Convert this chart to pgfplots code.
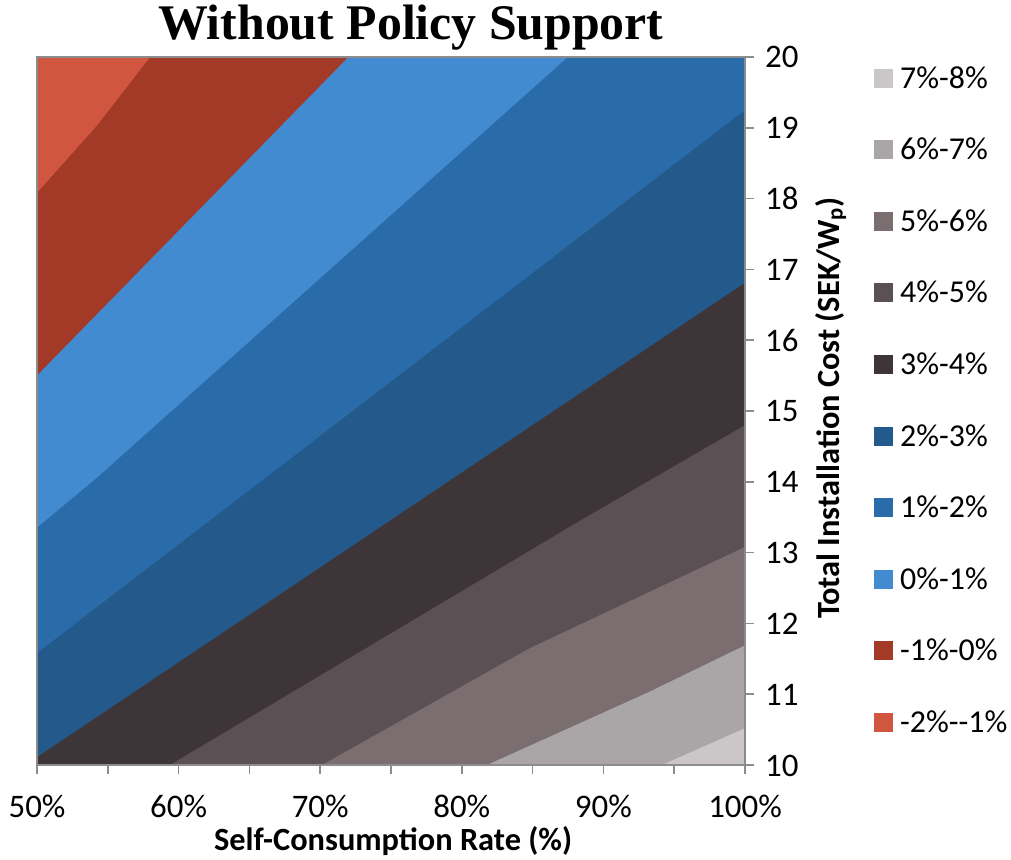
\documentclass[border=0pt]{standalone}
\usepackage{fontspec}
\setmainfont{Carlito}
\newfontfamily\serifbold{Liberation Serif}
\usepackage{pgfplots}
\pgfplotsset{compat=1.18}

% IRR band colours
\definecolor{irrM2}{HTML}{D0563F}
\definecolor{irrM1}{HTML}{A23A27}
\definecolor{irrP0}{HTML}{438BD1}
\definecolor{irrP1}{HTML}{2A6CAA}
\definecolor{irrP2}{HTML}{235A8B}
\definecolor{irrP3}{HTML}{3D3537}
\definecolor{irrP4}{HTML}{5B5053}
\definecolor{irrP5}{HTML}{7A6E71}
\definecolor{irrP6}{HTML}{AAA5A7}
\definecolor{irrP7}{HTML}{CBC6C8}
\definecolor{frame}{HTML}{8C8C8C}

\begin{document}
\begin{tikzpicture}
\useasboundingbox (-37bp,-95bp) rectangle (974bp,765bp);
\begin{axis}[
  at={(0,0)}, anchor=south west,
  scale only axis, width=708bp, height=708bp,
  xmin=50, xmax=100, ymin=10, ymax=20,
  axis on top,
  axis line style={draw=frame, line width=1.6bp},
  every tick/.style={draw=frame, line width=1.6bp},
  tick align=outside,
  major tick length=9bp, minor tick length=9bp,
  xtick={50,60,...,100}, minor xtick={55,65,...,95},
  xtick pos=bottom,
  ytick={10,11,...,20},
  ytick pos=right, yticklabel pos=right,
  /pgf/number format/assume math mode=true,
  xticklabel={\pgfmathprintnumber{\tick}\%},
  xticklabel style={anchor=base, inner sep=0pt, yshift=-43bp,
    font=\fontsize{33}{40}\selectfont},
  yticklabel style={anchor=base west, inner sep=0pt, xshift=11bp, yshift=-11bp,
    font=\fontsize{33}{40}\selectfont},
  xlabel={\bfseries Self-Consumption Rate (\%)},
  xlabel style={at={(0.503,0)}, anchor=base, yshift=-85bp, inner sep=0pt,
    font=\fontsize{32.5}{38}\selectfont},
  ylabel={\bfseries Total Installation Cost (SEK/W\textsubscript{p})},
  ylabel style={at={(1.1328,0.504)}, anchor=base, inner sep=0pt,
    font=\fontsize{32.5}{38}\selectfont},
  title={\serifbold\bfseries Without Policy Support},
  title style={at={(0.528,1)}, anchor=base, yshift=12bp, inner sep=0pt,
    font=\fontsize{50}{56}\selectfont},
  reverse legend,
  legend cell align=left,
  legend style={at={(1.1822,0.9845)}, anchor=north west, draw=none, fill=none,
    inner sep=0pt, row sep=51.6bp, column sep=7bp,
    nodes={inner sep=0pt, text height=20bp, text depth=0bp},
    font=\fontsize{32}{38}\selectfont},
  legend image code/.code={\fill[#1] (0bp,-9.5bp) rectangle (19bp,9.5bp);},
]
% bands layered from the lowest IRR (top left) to the highest (bottom right)
\addplot[fill=irrM2, draw=none] coordinates {(50,10) (50,20) (100,20) (100,10)} -- cycle;
\addlegendentry{-2\%-{}-1\%}
\addplot[fill=irrM1, draw=none] coordinates {(50,18.08) (54.2,19.02) (58,20) (100,20) (100,10) (50,10)} -- cycle;
\addlegendentry{-1\%-0\%}
\addplot[fill=irrP0, draw=none] coordinates {(50,15.5) (61,17.75) (72,20) (100,20) (100,10) (50,10)} -- cycle;
\addlegendentry{0\%-1\%}
\addplot[fill=irrP1, draw=none] coordinates {(50,13.35) (54.2,14.05) (87.5,20) (100,20) (100,10) (50,10)} -- cycle;
\addlegendentry{1\%-2\%}
\addplot[fill=irrP2, draw=none] coordinates {(50,11.58) (100,19.25) (100,10) (50,10)} -- cycle;
\addlegendentry{2\%-3\%}
\addplot[fill=irrP3, draw=none] coordinates {(50,10.11) (100,16.81) (100,10) (50,10)} -- cycle;
\addlegendentry{3\%-4\%}
\addplot[fill=irrP4, draw=none] coordinates {(59.39,10) (88.35,13.45) (100,14.8) (100,10)} -- cycle;
\addlegendentry{4\%-5\%}
\addplot[fill=irrP5, draw=none] coordinates {(70.13,10) (84.8,11.65) (100,13.08) (100,10)} -- cycle;
\addlegendentry{5\%-6\%}
\addplot[fill=irrP6, draw=none] coordinates {(81.78,10) (93.1,11.02) (100,11.69) (100,10)} -- cycle;
\addlegendentry{6\%-7\%}
\addplot[fill=irrP7, draw=none] coordinates {(94.14,10) (100,10.52) (100,10)} -- cycle;
\addlegendentry{7\%-8\%}
\node[anchor=base, inner sep=0pt, font=\serifbold\bfseries\fontsize{27}{32}\selectfont]
  at (rel axis cs:1.2754,1) [yshift=24bp] {IRR};
\end{axis}
\end{tikzpicture}
\end{document}
